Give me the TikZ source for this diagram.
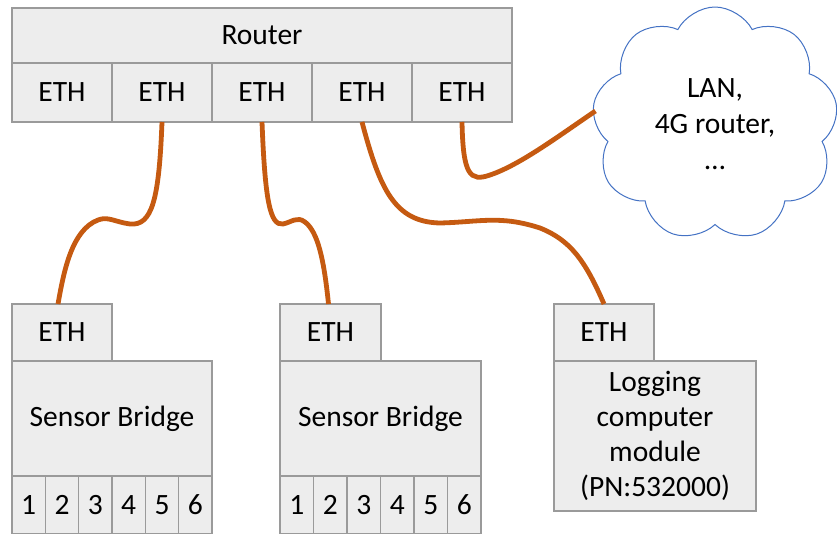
\documentclass[tikz,border=0pt]{standalone}
\usepackage{fontspec}
\setmainfont{Carlito}
\usetikzlibrary{shapes.symbols}
\definecolor{cable}{HTML}{C55A11}
\definecolor{boxfill}{HTML}{EDEDED}
\definecolor{boxline}{HTML}{9A9A9A}
\definecolor{cloudline}{HTML}{4472C4}
\begin{document}
\begin{tikzpicture}[x=1pt,y=-1pt,
  box/.style={draw=boxline, fill=boxfill, line width=1.1pt, inner sep=0pt, outer sep=0pt,
    anchor=north west, font=\fontsize{29.5}{35}\selectfont, align=center},
  cablestyle/.style={draw=cable, line width=4.8pt},
  cloudstyle/.style={cloud, cloud puffs=9, cloud puff arc=125, aspect=1.05, draw=cloudline,
    line width=1pt, fill=white, minimum width=246pt, minimum height=234pt,
    font=\fontsize{29.5}{36}\selectfont, align=center, inner sep=0pt, outer sep=0pt}
]
\useasboundingbox (0,0) rectangle (837,533);
\clip (0,0) rectangle (837,533);

% Router
\node[box, minimum width=500pt, minimum height=55pt] (router) at (12,8) {Router};
\foreach \i/\x in {1/12,2/112,3/212,4/312,5/412}
  \node[box, minimum width=100pt, minimum height=59pt] (r\i) at (\x,63) {ETH};

% Cloud
\node[cloudstyle] (cloud) at (715,124) {LAN,\\4G router,\\…};

% Sensor bridge 1
\node[box, minimum width=100pt, minimum height=57pt] (b1eth) at (12,304) {ETH};
\node[box, minimum width=200pt, minimum height=115pt] (b1) at (12,361) {Sensor Bridge};
\foreach \k in {1,...,6}
  \node[box, minimum width=33.33pt, minimum height=58pt] (b1p\k) at ({12+(\k-1)*33.33},476) {\k};

% Sensor bridge 2
\node[box, minimum width=101pt, minimum height=57pt] (b2eth) at (280,304) {ETH};
\node[box, minimum width=201pt, minimum height=115pt] (b2) at (280,361) {Sensor Bridge};
\foreach \k in {1,...,6}
  \node[box, minimum width=33.5pt, minimum height=58pt] (b2p\k) at ({280+(\k-1)*33.5},476) {\k};

% Logging computer module
\node[box, minimum width=100pt, minimum height=57pt] (logeth) at (554,304) {ETH};
\node[box, minimum width=202pt, minimum height=150pt] (log) at (554,361)
  {Logging\\computer\\module\\(PN:532000)};

% Cables
\draw[cablestyle] (r2.south) .. controls (159,200) and (152,226) .. (130,224)
  .. controls (115,222) and (108,216) .. (98,220)
  .. controls (72,230) and (64,270) .. ([xshift=-4pt]b1eth.north);
\draw[cablestyle] (r3.south) .. controls (265,200) and (270,226) .. (283,224)
  .. controls (292,222) and (297,216) .. (305,222)
  .. controls (318,232) and (324,260) .. ([xshift=-2pt]b2eth.north);
\draw[cablestyle] (r4.south) .. controls (380,190) and (395,222) .. (440,223)
  .. controls (480,222) and (500,215) .. (540,228)
  .. controls (570,240) and (585,260) .. (logeth.north);
\draw[cablestyle] (r5.south) .. controls (463,175) and (470,182) .. (490,175)
  .. controls (520,165) and (560,135) .. ([yshift=13pt]cloud.west);
\end{tikzpicture}
\end{document}
